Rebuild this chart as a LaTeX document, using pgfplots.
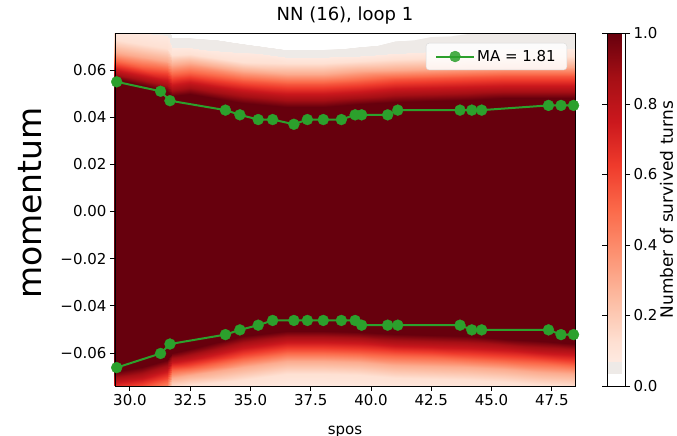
\documentclass[border=0pt]{standalone}
\usepackage{fontspec}
\setmainfont{DejaVu Sans}
\usepackage{pgfplots}
\pgfplotsset{compat=1.18}
\definecolor{mplgreen}{RGB}{44,160,44}
\begin{document}
\begin{tikzpicture}
\begin{axis}[
  at={(0,0)}, anchor=south west,
  scale only axis, width=460pt, height=352.5pt,
  xmin=29.38, xmax=48.46, ymin=-0.074, ymax=0.0755,
  axis on top,
  scaled y ticks=false, scaled x ticks=false,
  font=\fontsize{15}{18}\selectfont,
  tick align=outside, tick pos=left,
  major tick length=5pt,
  tick style={black, line width=0.9pt},
  axis line style={line width=0.9pt},
  xtick={30,32.5,35,37.5,40,42.5,45,47.5},
  xticklabels={30.0,32.5,35.0,37.5,40.0,42.5,45.0,47.5},
  ytick={-0.06,-0.04,-0.02,0,0.02,0.04,0.06},
  yticklabels={−0.06,−0.04,−0.02,0.00,0.02,0.04,0.06},
  title={NN (16), loop 1},
  title style={at={(0.5,1)}, anchor=south, yshift=0pt, font=\fontsize{18}{21}\selectfont},
  xlabel={spos},
  xlabel style={at={(axis description cs:0.5,0)}, anchor=north, yshift=-40pt, inner sep=0pt},
  ylabel={momentum},
  ylabel style={at={(axis description cs:-0.185,0.519)}, anchor=center, font=\fontsize{33}{40}\selectfont},
  colormap={mreds}{
    rgb255(0pt)=(255,255,255);
    rgb255(35pt)=(255,255,255);
    rgb255(36pt)=(238,234,231);
    rgb255(70pt)=(238,234,231);
    rgb255(71pt)=(254,233,224);
    rgb255(125pt)=(254,224,210);
    rgb255(250pt)=(252,187,161);
    rgb255(375pt)=(252,146,114);
    rgb255(500pt)=(251,106,74);
    rgb255(625pt)=(239,59,44);
    rgb255(750pt)=(203,24,29);
    rgb255(875pt)=(165,15,21);
    rgb255(1000pt)=(103,0,13)},
  point meta min=0, point meta max=1,
  colorbar,
  colorbar shift/.style={xshift=28pt},
  colorbar style={
    scale only axis,
    width=18pt,
    ytick={0,0.2,0.4,0.6,0.8,1},
    yticklabels={0.0,0.2,0.4,0.6,0.8,1.0},
    ylabel={Number of survived turns},
    ylabel style={at={(axis description cs:3.3,0.5)}, anchor=center, font=\fontsize{17}{20}\selectfont},
    tick align=outside,
    major tick length=5pt,
    tick style={black, line width=0.9pt},
    axis line style={line width=0.9pt},
    font=\fontsize{15}{18}\selectfont,
  },
  legend style={at={(axis description cs:1,1)}, anchor=north east, xshift=-8pt, yshift=-9.5pt,
    draw=black!15, rounded corners=3pt, fill=white, fill opacity=0.85, text opacity=1,
    inner xsep=9pt, inner ysep=5pt, font=\fontsize{15}{18}\selectfont},
  legend cell align=left,
  legend image code/.code={\draw[mark repeat=2,mark phase=2,#1] plot coordinates {(0pt,0pt) (19pt,0pt) (38pt,0pt)};},
]
\addplot[surf, shader=interp, forget plot, point meta=\thisrow{v}] table {
x y v
29.3 -0.1 0
29.3 -0.092 0.02
29.3 -0.089 0.05
29.3 -0.0865 0.12
29.3 -0.081 0.3
29.3 -0.0765 0.55
29.3 -0.072 0.8
29.3 -0.068 1
29.3 0.0565 1
29.3 0.0595 0.8
29.3 0.0635 0.55
29.3 0.0675 0.3
29.3 0.073 0.12
29.3 0.080 0.05
29.3 0.086 0.02
29.3 0.1 0

30.5 -0.1 0
30.5 -0.092 0.02
30.5 -0.089 0.05
30.5 -0.0845 0.12
30.5 -0.079 0.3
30.5 -0.0745 0.55
30.5 -0.070 0.8
30.5 -0.066 1
30.5 0.0535 1
30.5 0.057 0.8
30.5 0.061 0.55
30.5 0.0655 0.3
30.5 0.071 0.12
30.5 0.078 0.05
30.5 0.086 0.02
30.5 0.1 0

31.55 -0.1 0
31.55 -0.092 0.02
31.55 -0.088 0.05
31.55 -0.0815 0.12
31.55 -0.076 0.3
31.55 -0.0715 0.55
31.55 -0.067 0.8
31.55 -0.063 1
31.55 0.051 1
31.55 0.055 0.8
31.55 0.0595 0.55
31.55 0.064 0.3
31.55 0.0695 0.12
31.55 0.077 0.05
31.55 0.086 0.02
31.55 0.1 0

31.75 -0.1 0
31.75 -0.092 0.02
31.75 -0.082 0.05
31.75 -0.0745 0.12
31.75 -0.0705 0.3
31.75 -0.067 0.55
31.75 -0.0635 0.8
31.75 -0.060 1
31.75 0.049 1
31.75 0.053 0.8
31.75 0.0575 0.55
31.75 0.062 0.3
31.75 0.0665 0.12
31.75 0.0705 0.05
31.75 0.077 0.02
31.75 0.1 0

32.5 -0.1 0
32.5 -0.092 0.02
32.5 -0.080 0.05
32.5 -0.0735 0.12
32.5 -0.0695 0.3
32.5 -0.066 0.55
32.5 -0.062 0.8
32.5 -0.0585 1
32.5 0.050 1
32.5 0.054 0.8
32.5 0.0585 0.55
32.5 0.063 0.3
32.5 0.067 0.12
32.5 0.0705 0.05
32.5 0.077 0.02
32.5 0.1 0

34.7 -0.1 0
34.7 -0.092 0.02
34.7 -0.078 0.05
34.7 -0.0715 0.12
34.7 -0.066 0.3
34.7 -0.0615 0.55
34.7 -0.057 0.8
34.7 -0.053 1
34.7 0.046 1
34.7 0.0505 0.8
34.7 0.0555 0.55
34.7 0.0595 0.3
34.7 0.0635 0.12
34.7 0.069 0.05
34.7 0.0735 0.02
34.7 0.1 0

36.5 -0.1 0
36.5 -0.092 0.02
36.5 -0.076 0.05
36.5 -0.069 0.12
36.5 -0.0635 0.3
36.5 -0.059 0.55
36.5 -0.0545 0.8
36.5 -0.0505 1
36.5 0.0445 1
36.5 0.049 0.8
36.5 0.054 0.55
36.5 0.0585 0.3
36.5 0.063 0.12
36.5 0.0665 0.05
36.5 0.071 0.02
36.5 0.1 0

38.0 -0.1 0
38.0 -0.092 0.02
38.0 -0.076 0.05
38.0 -0.069 0.12
38.0 -0.0635 0.3
38.0 -0.059 0.55
38.0 -0.0545 0.8
38.0 -0.0505 1
38.0 0.0445 1
38.0 0.049 0.8
38.0 0.054 0.55
38.0 0.0585 0.3
38.0 0.063 0.12
38.0 0.0665 0.05
38.0 0.0715 0.02
38.0 0.1 0

39.5 -0.1 0
39.5 -0.092 0.02
39.5 -0.077 0.05
39.5 -0.0695 0.12
39.5 -0.064 0.3
39.5 -0.0595 0.55
39.5 -0.055 0.8
39.5 -0.051 1
39.5 0.0455 1
39.5 0.050 0.8
39.5 0.055 0.55
39.5 0.0595 0.3
39.5 0.064 0.12
39.5 0.067 0.05
39.5 0.073 0.02
39.5 0.1 0

41.0 -0.1 0
41.0 -0.092 0.02
41.0 -0.078 0.05
41.0 -0.0705 0.12
41.0 -0.065 0.3
41.0 -0.0605 0.55
41.0 -0.056 0.8
41.0 -0.052 1
41.0 0.0465 1
41.0 0.051 0.8
41.0 0.056 0.55
41.0 0.060 0.3
41.0 0.0645 0.12
41.0 0.068 0.05
41.0 0.077 0.02
41.0 0.1 0

42.5 -0.1 0
42.5 -0.092 0.02
42.5 -0.078 0.05
42.5 -0.071 0.12
42.5 -0.0655 0.3
42.5 -0.061 0.55
42.5 -0.0565 0.8
42.5 -0.0525 1
42.5 0.047 1
42.5 0.0515 0.8
42.5 0.0565 0.55
42.5 0.0605 0.3
42.5 0.065 0.12
42.5 0.069 0.05
42.5 0.080 0.02
42.5 0.1 0

44.0 -0.1 0
44.0 -0.092 0.02
44.0 -0.079 0.05
44.0 -0.0715 0.12
44.0 -0.066 0.3
44.0 -0.0615 0.55
44.0 -0.057 0.8
44.0 -0.053 1
44.0 0.0475 1
44.0 0.052 0.8
44.0 0.057 0.55
44.0 0.061 0.3
44.0 0.0655 0.12
44.0 0.0695 0.05
44.0 0.082 0.02
44.0 0.1 0

45.5 -0.1 0
45.5 -0.092 0.02
45.5 -0.080 0.05
45.5 -0.0725 0.12
45.5 -0.067 0.3
45.5 -0.0625 0.55
45.5 -0.058 0.8
45.5 -0.054 1
45.5 0.048 1
45.5 0.0525 0.8
45.5 0.0575 0.55
45.5 0.0615 0.3
45.5 0.066 0.12
45.5 0.070 0.05
45.5 0.085 0.02
45.5 0.1 0

47.0 -0.1 0
47.0 -0.092 0.02
47.0 -0.080 0.05
47.0 -0.0735 0.12
47.0 -0.068 0.3
47.0 -0.0635 0.55
47.0 -0.059 0.8
47.0 -0.055 1
47.0 0.048 1
47.0 0.0525 0.8
47.0 0.0575 0.55
47.0 0.0615 0.3
47.0 0.066 0.12
47.0 0.070 0.05
47.0 0.085 0.02
47.0 0.1 0

48.6 -0.1 0
48.6 -0.092 0.02
48.6 -0.081 0.05
48.6 -0.0745 0.12
48.6 -0.069 0.3
48.6 -0.0645 0.55
48.6 -0.060 0.8
48.6 -0.056 1
48.6 0.048 1
48.6 0.0525 0.8
48.6 0.0575 0.55
48.6 0.0615 0.3
48.6 0.066 0.12
48.6 0.070 0.05
48.6 0.085 0.02
48.6 0.1 0
};
\addplot[color=mplgreen, line width=2pt, mark=*, mark size=5.5pt, mark options={solid, fill=mplgreen, draw=mplgreen, line width=0.3pt}] coordinates {
(29.45,0.0550) (31.27,0.0510) (31.66,0.0470) (33.96,0.0430) (34.56,0.0410)
(35.32,0.0390) (35.92,0.0390) (36.80,0.0370) (37.36,0.0390) (38.02,0.0390)
(38.77,0.0390) (39.34,0.0410) (39.61,0.0410) (40.69,0.0410) (41.11,0.0430)
(43.69,0.0430) (44.18,0.0430) (44.59,0.0430) (47.36,0.0450) (47.88,0.0450)
(48.40,0.0450)
};
\addlegendentry{MA = 1.81}
\addplot[color=mplgreen, line width=2pt, mark=*, mark size=5.5pt, mark options={solid, fill=mplgreen, draw=mplgreen, line width=0.3pt}, forget plot] coordinates {
(29.45,-0.0662) (31.27,-0.0602) (31.66,-0.0562) (33.96,-0.0522) (34.56,-0.0502)
(35.32,-0.0482) (35.92,-0.0462) (36.80,-0.0462) (37.36,-0.0462) (38.02,-0.0462)
(38.77,-0.0462) (39.34,-0.0462) (39.61,-0.0482) (40.69,-0.0482) (41.11,-0.0482)
(43.69,-0.0482) (44.18,-0.0502) (44.59,-0.0502) (47.36,-0.0502) (47.88,-0.0522)
(48.40,-0.0522)
};
\end{axis}
\pgfresetboundingbox
\path[use as bounding box] (-115pt,-50pt) rectangle (562pt,386pt);
\end{tikzpicture}
\end{document}
